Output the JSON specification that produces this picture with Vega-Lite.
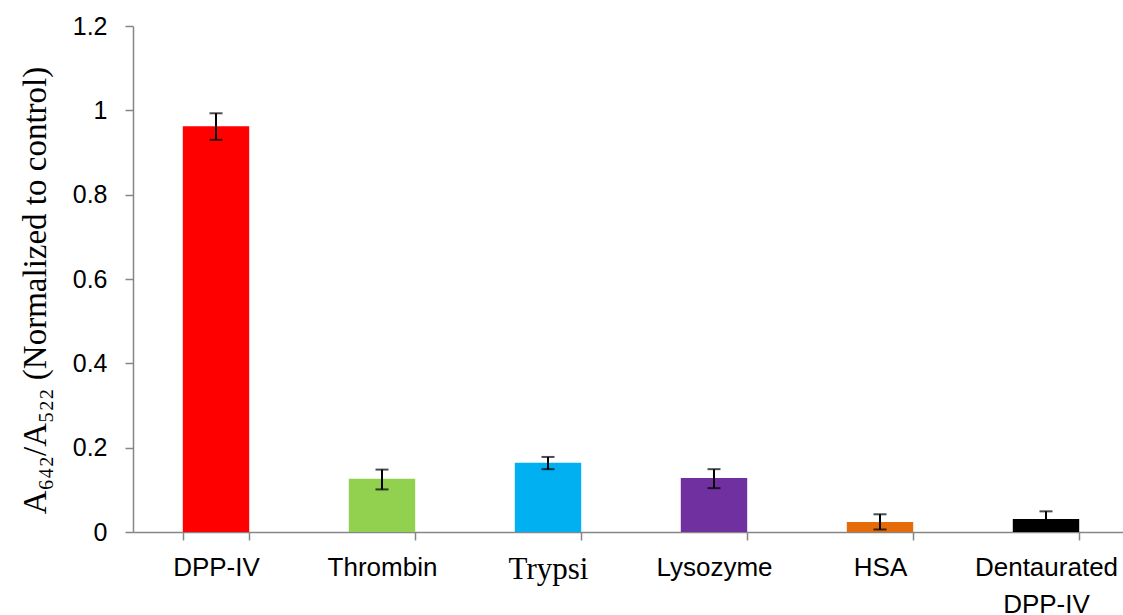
{
  "$schema": "https://vega.github.io/schema/vega-lite/v6.json",
  "autosize": {"type": "none"},
  "padding": {"left": 133, "top": 26, "right": 0, "bottom": 83},
  "width": 990,
  "height": 506,
  "background": "white",
  "config": {"view": {"stroke": null}},
  "data": {
    "values": [
      {"protein": "DPP-IV", "value": 0.962, "lo": 0.930, "hi": 0.993},
      {"protein": "Thrombin", "value": 0.126, "lo": 0.101, "hi": 0.148},
      {"protein": "Trypsi", "value": 0.164, "lo": 0.149, "hi": 0.178},
      {"protein": "Lysozyme", "value": 0.128, "lo": 0.104, "hi": 0.149},
      {"protein": "HSA", "value": 0.024, "lo": 0.006, "hi": 0.042},
      {"protein": "Dentaurated DPP-IV", "value": 0.031, "lo": 0.013, "hi": 0.049}
    ]
  },
  "encoding": {
    "x": {
      "field": "protein",
      "type": "nominal",
      "sort": null,
      "scale": {"paddingInner": 0.6, "paddingOuter": 0.3, "range": [0, 996]},
      "axis": {
        "title": null,
        "labelAngle": 0,
        "domainColor": "#868686",
        "domainWidth": 1.5,
        "tickColor": "#868686",
        "tickWidth": 1.5,
        "tickSize": 8,
        "tickBand": "extent",
        "labelFont": {"condition": {"test": "datum.value == 'Trypsi'", "value": "Liberation Serif"}, "value": "Liberation Sans"},
        "labelFontSize": {"condition": {"test": "datum.value == 'Trypsi'", "value": 31}, "value": 26},
        "labelColor": "black",
        "labelPadding": 14,
        "labelLineHeight": 37,
        "labelBaseline": "top",
        "labelOverlap": false,
        "labelBound": false,
        "labelExpr": "datum.value == 'Dentaurated DPP-IV' ? ['Dentaurated', 'DPP-IV'] : datum.value"
      }
    }
  },
  "layer": [
    {
      "mark": {"type": "bar"},
      "encoding": {
        "y": {
          "field": "value",
          "type": "quantitative",
          "scale": {"domain": [0, 1.2], "nice": false},
          "axis": {
            "title": "A₆₄₂/A₅₂₂ (Normalized to control)",
            "titleFont": "Liberation Serif",
            "titleFontSize": 33,
            "titleFontWeight": "normal",
            "titleColor": "black",
            "titlePadding": 20,
            "titleY": 264,
            "values": [0, 0.2, 0.4, 0.6, 0.8, 1, 1.2],
            "labelExpr": "datum.value == 0 ? '0' : format(datum.value, '.1~f')",
            "labelFont": "Liberation Sans",
            "labelFontSize": 25,
            "labelColor": "black",
            "labelPadding": 18,
            "labelOverlap": false,
            "grid": false,
            "domainColor": "#868686",
            "domainWidth": 1.5,
            "tickColor": "#868686",
            "tickWidth": 1.5,
            "tickSize": 8
          }
        },
        "color": {
          "field": "protein",
          "type": "nominal",
          "sort": null,
          "legend": null,
          "scale": {
            "domain": ["DPP-IV", "Thrombin", "Trypsi", "Lysozyme", "HSA", "Dentaurated DPP-IV"],
            "range": ["#FF0000", "#92D050", "#00B0F0", "#7030A0", "#E46C0A", "#000000"]
          }
        }
      }
    },
    {
      "mark": {"type": "rule", "color": "black", "strokeWidth": 2},
      "encoding": {
        "y": {"field": "lo", "type": "quantitative"},
        "y2": {"field": "hi"}
      }
    },
    {
      "mark": {"type": "tick", "color": "black", "thickness": 2, "size": 13},
      "encoding": {"y": {"field": "lo", "type": "quantitative"}}
    },
    {
      "mark": {"type": "tick", "color": "black", "thickness": 2, "size": 13},
      "encoding": {"y": {"field": "hi", "type": "quantitative"}}
    }
  ]
}
